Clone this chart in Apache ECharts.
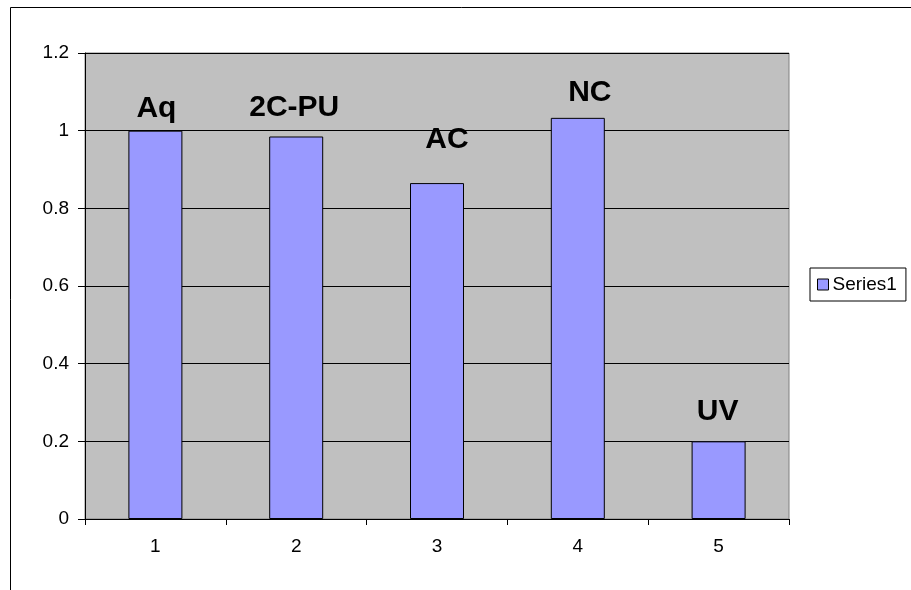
<!DOCTYPE html>
<html>
<head>
<meta charset="utf-8">
<script src="https://cdn.jsdelivr.net/npm/echarts@6/dist/echarts.min.js"></script>
<style>html,body{margin:0;padding:0;background:#fff;}#c{width:911px;height:590px;}</style>
</head>
<body>
<div id="c"></div>
<script>
const categories = ['1', '2', '3', '4', '5'];
const seriesName = 'Series1';
const values = [1.0, 0.985, 0.865, 1.033, 0.2];
const barLabels = ['Aq', '2C-PU', 'AC', 'NC', 'UV'];
const yTicks = [0, 0.2, 0.4, 0.6, 0.8, 1, 1.2];

// label placement (style, manually positioned in original)
const labelOffsets = [[1, -7], [-2, -14], [10, -28], [12, -10], [-1, -15]];

const FONT = '"Liberation Sans", Arial, sans-serif';
const chart = echarts.init(document.getElementById('c'));
chart.setOption({
  animation: false,
  backgroundColor: '#fff',
  textStyle: { fontFamily: FONT },
  graphic: [{
    type: 'rect', shape: { x: 10.5, y: 7.5, width: 1200, height: 900 },
    style: { fill: 'none', stroke: '#000', lineWidth: 1 }, silent: true, z: -1
  }],
  grid: {
    left: 85, top: 53, right: 122, bottom: 71,
    show: true, backgroundColor: '#C0C0C0', borderColor: '#808080', borderWidth: 1
  },
  legend: {
    left: 810, top: 268, orient: 'vertical',
    data: [seriesName], icon: 'rect', itemWidth: 11, itemHeight: 11, itemGap: 0,
    itemStyle: { borderColor: '#000', borderWidth: 1 },
    padding: [7, 9, 7, 7], borderColor: '#000', borderWidth: 1, backgroundColor: '#fff',
    textStyle: { fontSize: 19, color: '#000', fontFamily: FONT, padding: [0, 0, 0, -1] }
  },
  xAxis: {
    type: 'category', data: categories,
    axisLine: { lineStyle: { color: '#000', width: 1 } },
    axisTick: { show: true, alignWithLabel: false, length: 6, lineStyle: { color: '#000' } },
    axisLabel: { color: '#000', fontSize: 19, margin: 18, fontFamily: FONT },
    splitLine: { show: false }
  },
  yAxis: {
    type: 'value', min: yTicks[0], max: yTicks[yTicks.length - 1], interval: 0.2,
    axisLine: { show: true, lineStyle: { color: '#000', width: 1 } },
    axisTick: { show: true, length: 7, lineStyle: { color: '#000' } },
    axisLabel: { color: '#000', fontSize: 19, margin: 16, fontFamily: FONT,
      formatter: v => String(Math.round(v * 10) / 10) },
    splitLine: { show: true, lineStyle: { color: '#000', width: 1 } }
  },
  series: [{
    name: seriesName, type: 'bar', barWidth: 54,
    itemStyle: { color: '#9999FF', borderColor: '#000', borderWidth: 1 },
    data: values.map((v, i) => ({
      value: v,
      label: {
        show: true, position: 'top', distance: 0,
        formatter: barLabels[i], offset: labelOffsets[i],
        fontSize: 30, fontWeight: 'bold', color: '#000', fontFamily: FONT
      }
    }))
  }]
});
</script>
</body>
</html>
